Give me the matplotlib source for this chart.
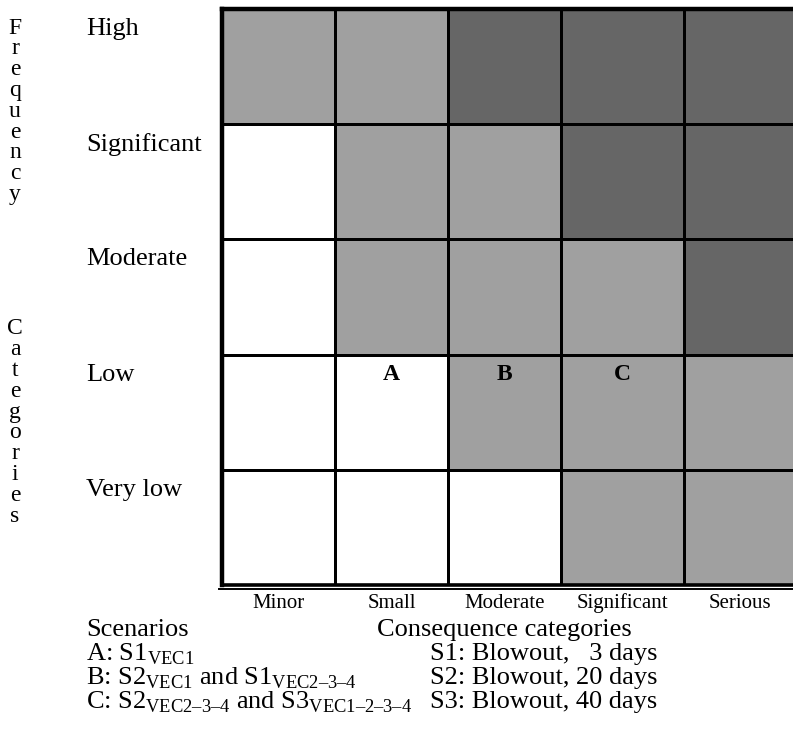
import matplotlib
matplotlib.use("Agg")
import matplotlib.pyplot as plt
from matplotlib.colors import ListedColormap
import numpy as np

plt.rcParams['font.family'] = ['Liberation Serif', 'DejaVu Serif']
plt.rcParams['mathtext.fontset'] = 'custom'
plt.rcParams['mathtext.rm'] = 'Liberation Serif'

frequency = ["High", "Significant", "Moderate", "Low", "Very low"]
consequence = ["Minor", "Small", "Moderate", "Significant", "Serious"]
# risk level per cell: 0 = low (white), 1 = medium (light grey), 2 = high (dark grey)
risk = [
    [1, 1, 2, 2, 2],
    [0, 1, 1, 2, 2],
    [0, 1, 1, 1, 2],
    [0, 0, 1, 1, 1],
    [0, 0, 0, 1, 1],
]
scenario_marks = [("A", "Low", "Small"), ("B", "Low", "Moderate"), ("C", "Low", "Significant")]
scenarios = [
    "Scenarios",
    r"A: S1$_{\mathrm{VEC1}}$",
    r"B: S2$_{\mathrm{VEC1}}$ and S1$_{\mathrm{VEC2–3–4}}$",
    r"C: S2$_{\mathrm{VEC2–3–4}}$ and S3$_{\mathrm{VEC1–2–3–4}}$",
]
cons_cats = [
    "Consequence categories",
    "S1: Blowout,   3 days",
    "S2: Blowout, 20 days",
    "S3: Blowout, 40 days",
]

W, H = 793, 748
fig = plt.figure(figsize=(W / 100, H / 100), dpi=100)

left, top, bottom, right = 222, 9, 585, 795
ax = fig.add_axes([left / W, 1 - bottom / H, (right - left) / W, (bottom - top) / H])

col_w = [113, 113, 113, 123, 111]
xe = np.concatenate([[0], np.cumsum(col_w)])
ye = np.arange(len(frequency) + 1)
cmap = ListedColormap(["#ffffff", "#a0a0a0", "#666666"])
ax.pcolormesh(xe, ye, np.array(risk), cmap=cmap, vmin=0, vmax=2,
              edgecolor="black", linewidth=1.8)
ax.set_xlim(xe[0], xe[-1])
ax.set_ylim(len(frequency), 0)
ax.set_xticks([])
ax.set_yticks([])
for s in ax.spines.values():
    s.set_visible(False)

# thick borders
n = len(frequency)
ax.plot([0, 0], [0, n], color="black", lw=3.2, clip_on=False)
ax.plot([0, xe[-1]], [0, 0], color="black", lw=3.2, clip_on=False)
ax.plot([0, xe[-1]], [n, n], color="black", lw=2.6, clip_on=False)
ax.plot([-3, xe[-1]], [n + 0.033, n + 0.033], color="black", lw=1.4, clip_on=False)

xc = (xe[:-1] + xe[1:]) / 2
for letter, f, c in scenario_marks:
    r = frequency.index(f)
    ci = consequence.index(c)
    ax.text(xc[ci], r + 0.17, letter, ha="center", va="center",
            fontsize=17, fontweight="bold")

# row labels
for i, f in enumerate(frequency):
    y = top + i * (bottom - top) / n + 20
    fig.text(86 / W, 1 - y / H, f, ha="left", va="center", fontsize=19)

# column labels
for i, c in enumerate(consequence):
    fig.text((left + xc[i]) / W, 1 - 603 / H, c, ha="center", va="center", fontsize=15)

# vertical axis title, one letter per line
step = 20.8
for word, y0 in [("Frequency", 28), ("Categories", 329)]:
    for k, ch in enumerate(word):
        fig.text(15 / W, 1 - (y0 + k * step) / H, ch, ha="center", va="center", fontsize=17)

# footnotes
for k, (a, b) in enumerate(zip(scenarios, cons_cats)):
    y = 630 + k * 24
    fig.text(86 / W, 1 - y / H, a, ha="left", va="center", fontsize=19)
    bx = 377 if k == 0 else 430
    fig.text(bx / W, 1 - y / H, b, ha="left", va="center", fontsize=19)

fig.savefig("out.png", dpi=100)
